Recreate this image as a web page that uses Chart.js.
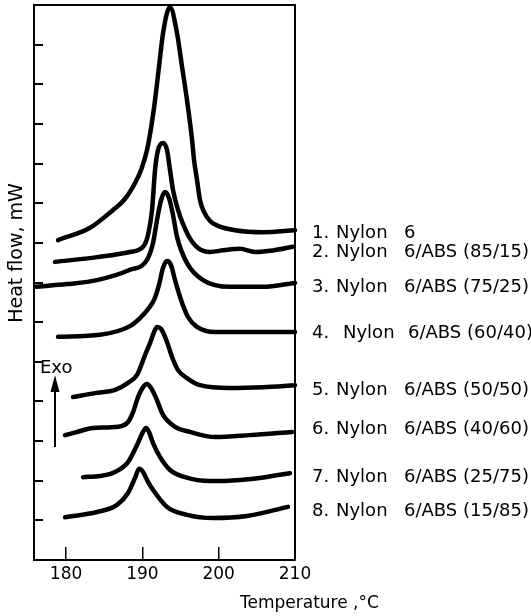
<!DOCTYPE html>
<html>
<head>
<meta charset="utf-8">
<script src="https://cdn.jsdelivr.net/npm/chart.js@4"></script>
<style>
  html, body { margin: 0; padding: 0; background: #fff; }
  #wrap { width: 531px; height: 616px; }
</style>
</head>
<body>
<div id="wrap"><canvas id="dscChart" width="531" height="616"></canvas></div>
<script>
// temperature (°C) and heat flow (arbitrary offset units)
const temp1 = [178.95, 183.15, 186.16, 187.60, 189.04, 189.83, 190.61, 191.14, 191.66, 192.18, 192.71, 193.62, 194.54, 195.20, 195.85, 196.51, 196.77, 197.16, 197.55, 198.08, 198.87, 199.91, 202.14, 205.81, 210.0];
const flow1 = [8.07, 8.38, 8.83, 9.08, 9.51, 9.84, 10.34, 10.90, 11.60, 12.44, 13.29, 13.95, 13.29, 12.44, 11.60, 10.60, 10.09, 9.59, 9.08, 8.78, 8.55, 8.43, 8.32, 8.27, 8.32];

const temp2 = [178.56, 184.06, 188.38, 190.09, 190.74, 191.27, 191.66, 192.05, 192.71, 193.23, 193.62, 194.02, 194.67, 195.98, 197.29, 198.87, 200.83, 202.79, 204.76, 206.72, 209.74];
const flow2 = [7.52, 7.64, 7.77, 7.90, 8.20, 8.83, 9.84, 10.34, 10.52, 10.34, 9.84, 9.33, 8.83, 8.20, 7.87, 7.77, 7.82, 7.85, 7.77, 7.80, 7.90];

const temp3 = [176.0, 180.13, 184.06, 188.38, 190.61, 191.40, 191.92, 192.45, 192.97, 193.49, 194.02, 194.54, 195.85, 197.95, 201.48, 205.81, 210.0];
const flow3 = [6.89, 6.96, 7.06, 7.32, 7.57, 8.00, 8.58, 9.08, 9.28, 9.13, 8.70, 8.15, 7.49, 7.06, 6.89, 6.89, 6.99];

const temp4 = [178.95, 184.45, 188.38, 189.69, 190.74, 191.53, 192.18, 192.71, 193.23, 193.75, 194.28, 195.07, 195.98, 197.16, 199.52, 206.33, 210.0];
const flow4 = [5.63, 5.68, 5.90, 6.10, 6.33, 6.56, 6.94, 7.37, 7.54, 7.44, 7.06, 6.56, 6.13, 5.88, 5.75, 5.75, 5.75];

const temp5 = [180.92, 183.80, 186.42, 188.12, 189.30, 190.35, 191.00, 191.53, 191.92, 192.45, 193.23, 193.89, 194.67, 195.98, 197.55, 201.48, 205.81, 210.0];
const flow5 = [4.11, 4.21, 4.29, 4.47, 4.67, 5.17, 5.47, 5.75, 5.88, 5.83, 5.50, 5.12, 4.79, 4.57, 4.41, 4.34, 4.36, 4.41];

const temp6 = [179.87, 181.44, 183.54, 186.81, 188.12, 188.78, 189.43, 190.09, 190.61, 191.14, 191.79, 192.71, 194.28, 196.24, 199.52, 204.12, 209.61];
const flow6 = [3.15, 3.23, 3.33, 3.36, 3.48, 3.73, 4.11, 4.36, 4.44, 4.34, 4.09, 3.66, 3.36, 3.23, 3.10, 3.15, 3.23];

const temp7 = [182.23, 184.45, 186.42, 188.12, 189.30, 190.09, 190.48, 190.87, 191.40, 192.31, 193.62, 195.59, 198.87, 202.79, 206.07, 209.34];
const flow7 = [2.09, 2.12, 2.22, 2.47, 2.90, 3.23, 3.33, 3.23, 2.95, 2.60, 2.27, 2.09, 1.99, 2.02, 2.09, 2.19];

const temp8 = [179.87, 184.06, 186.68, 188.12, 189.04, 189.56, 190.09, 190.74, 191.40, 193.23, 195.85, 199.26, 203.71, 209.08];
const flow8 = [1.08, 1.21, 1.39, 1.69, 2.07, 2.30, 2.22, 1.97, 1.77, 1.34, 1.14, 1.06, 1.11, 1.34];

const sampleNums = ['1.', '2.', '3.', '4.', '5.', '6.', '7.', '8.'];
const sampleBlends = ['6', '6/ABS (85/15)', '6/ABS (75/25)', '6/ABS (60/40)', '6/ABS (50/50)', '6/ABS (40/60)', '6/ABS (25/75)', '6/ABS (15/85)'];

const tempTicks = [180, 190, 200, 210];
const flowTicks = [1, 2, 3, 4, 5, 6, 7, 8, 9, 10, 11, 12, 13];

const temps = [temp1, temp2, temp3, temp4, temp5, temp6, temp7, temp8];
const flows = [flow1, flow2, flow3, flow4, flow5, flow6, flow7, flow8];

// pixel nudge of each label from its curve end
const labelShift = [3, 6, 4, 1, 5, -3, 4, 4];

const FONT = "'DejaVu Sans', sans-serif";

const datasets = temps.map((t, i) => ({
  label: 'Nylon ' + sampleBlends[i],
  data: t.map((x, j) => ({ x: x, y: flows[i][j] })),
  borderColor: '#000',
  borderWidth: 4.5,
  pointRadius: 0,
  cubicInterpolationMode: 'monotone',
  borderCapStyle: 'round',
  borderJoinStyle: 'round',
  fill: false,
  clip: false
}));

// frame, axis titles, Exo arrow and sample labels
const annotations = {
  id: 'annotations',
  afterDraw(chart) {
    const ctx = chart.ctx;
    const area = chart.chartArea;
    const ys = chart.scales.y;
    ctx.save();
    ctx.strokeStyle = '#000';
    ctx.lineWidth = 2;
    ctx.beginPath();
    ctx.moveTo(area.left, area.top);
    ctx.lineTo(area.right, area.top);
    ctx.lineTo(area.right, area.bottom);
    ctx.stroke();

    ctx.fillStyle = '#000';
    ctx.textBaseline = 'middle';

    // y title
    ctx.save();
    ctx.translate(17, 253);
    ctx.rotate(-Math.PI / 2);
    ctx.textAlign = 'center';
    ctx.font = '19px ' + FONT;
    ctx.fillText('Heat flow, mW', 0, 0);
    ctx.restore();

    // x title
    ctx.textAlign = 'left';
    ctx.font = '17px ' + FONT;
    ctx.fillText('Temperature ,°C', 240, 604);

    // Exo arrow
    ctx.font = '18px ' + FONT;
    ctx.fillText('Exo', 40, 368);
    ctx.lineWidth = 2;
    ctx.beginPath();
    ctx.moveTo(55, 447);
    ctx.lineTo(55, 388);
    ctx.stroke();
    ctx.beginPath();
    ctx.moveTo(55, 375);
    ctx.lineTo(50.5, 392);
    ctx.lineTo(59.5, 392);
    ctx.closePath();
    ctx.fill();

    // sample labels next to the curve ends
    ctx.font = '18px ' + FONT;
    flows.forEach((f, i) => {
      const y = ys.getPixelForValue(f[f.length - 1]) + labelShift[i];
      ctx.fillText(sampleNums[i], 312, y);
      ctx.fillText('Nylon', i === 3 ? 343 : 336, y);
      ctx.fillText(sampleBlends[i], i === 3 ? 408 : 404, y);
    });
    ctx.restore();
  }
};

new Chart(document.getElementById('dscChart'), {
  type: 'line',
  data: { datasets: datasets },
  options: {
    responsive: false,
    animation: false,
    events: [],
    layout: { padding: { left: 34, right: 236, top: 5, bottom: 0 } },
    plugins: { legend: { display: false }, tooltip: { enabled: false } },
    scales: {
      x: {
        type: 'linear',
        min: 175.8,
        max: 210,
        afterBuildTicks: s => { s.ticks = tempTicks.map(v => ({ value: v })); },
        afterFit: s => { s.height = 56; },
        border: { display: true, color: '#000', width: 2 },
        grid: { drawOnChartArea: false, drawTicks: true, tickLength: -13, color: '#000', lineWidth: 1.5 },
        ticks: { color: '#000', padding: 17, font: { family: FONT, size: 17 } }
      },
      y: {
        type: 'linear',
        min: 0,
        max: 14,
        afterBuildTicks: s => { s.ticks = flowTicks.map(v => ({ value: v })); },
        afterFit: s => { s.width = 0; },
        border: { display: true, color: '#000', width: 2 },
        grid: { drawOnChartArea: false, drawTicks: true, tickLength: -9, color: '#000', lineWidth: 2 },
        ticks: { display: false }
      }
    }
  },
  plugins: [annotations]
});
</script>
</body>
</html>
